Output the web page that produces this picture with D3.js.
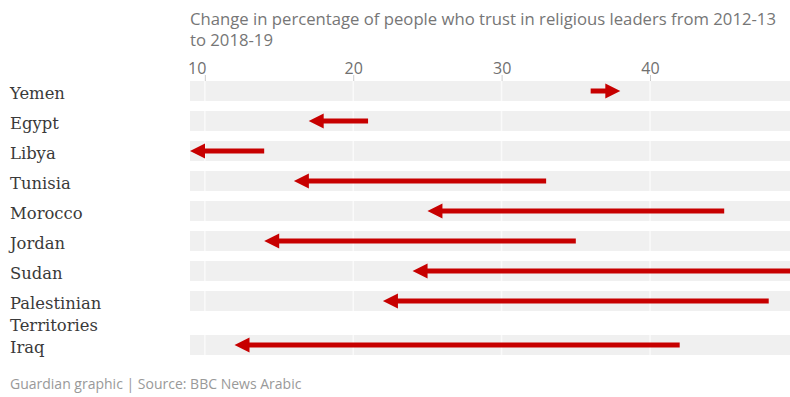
<!DOCTYPE html>
<html>
<head>
<meta charset="utf-8">
<script src="https://cdn.jsdelivr.net/npm/d3@7"></script>
<style>
  body { margin: 0; background: #fff; }
  svg { display: block; }
</style>
</head>
<body>
<div id="content"></div>
<script>
var width = 790;
var height = 397;

var countries = ['Yemen', 'Egypt', 'Libya', 'Tunisia', 'Morocco', 'Jordan', 'Sudan', 'Palestinian Territories', 'Iraq'];
var labelLines = [['Yemen'], ['Egypt'], ['Libya'], ['Tunisia'], ['Morocco'], ['Jordan'], ['Sudan'], ['Palestinian', 'Territories'], ['Iraq']];
var start2012 = [36, 21, 14, 33, 45, 35, 51, 48, 42];
var end2019 = [38, 17, 9, 16, 25, 14, 24, 22, 12];
var tickValues = [10, 20, 30, 40];
var titleLines = ['Change in percentage of people who trust in religious leaders from 2012-13', 'to 2018-19'];
var sourceText = 'Guardian graphic | Source: BBC News Arabic';

var red = '#c70000';
var bandH = 20;
var headLen = 15;
var headH = 15;

var x = d3.scaleLinear()
    .domain([9, 50])
    .range([190, 798.4]);

// row tops: 30px per row, extra 14px for each wrapped label line
var rowTop = [];
var y0 = 81;
labelLines.forEach(function(l){
    rowTop.push(y0);
    y0 += 30 + (l.length - 1) * 14;
});

var svg = d3.select('div#content').append('svg')
    .attr('width', width)
    .attr('height', height);

// title
svg.append('text')
    .attr('x', 190)
    .attr('y', 25)
    .attr('font-family', 'Open Sans')
    .attr('font-size', 16.7)
    .attr('fill', '#767676')
    .selectAll('tspan')
    .data(titleLines).enter()
        .append('tspan')
            .attr('x', 190)
            .attr('dy', function(d, i){ return i ? 21 : 0; })
            .text(function(d){ return d; });

// bands
var rows = svg.append('g').selectAll('g.row')
    .data(countries).enter()
        .append('g')
        .attr('class', 'row');

rows.append('rect')
    .attr('x', x(9))
    .attr('y', function(d, i){ return rowTop[i]; })
    .attr('width', width - x(9))
    .attr('height', bandH)
    .attr('fill', '#f0f0f0');

// grid lines through bands
rows.each(function(d, i){
    d3.select(this).selectAll('line.grid')
        .data(tickValues).enter()
            .append('line')
            .attr('class', 'grid')
            .attr('x1', function(t){ return x(t); })
            .attr('x2', function(t){ return x(t); })
            .attr('y1', rowTop[i])
            .attr('y2', rowTop[i] + bandH)
            .attr('stroke', '#fafafa')
            .attr('stroke-width', 1.5);
});

// axis
var axis = d3.axisTop(x)
    .tickValues(tickValues)
    .tickSize(6)
    .tickPadding(1)
    .tickFormat(d3.format('d'));

var axisG = svg.append('g')
    .attr('transform', 'translate(0,81)')
    .call(axis);
axisG.select('.domain').remove();
axisG.selectAll('.tick line').attr('stroke', '#cccccc');
axisG.selectAll('.tick text')
    .attr('font-family', 'Open Sans')
    .attr('font-size', 16)
    .attr('fill', '#707070');
// first label sits left of its tick
axisG.selectAll('.tick text')
    .filter(function(d, i){ return i === 0; })
    .attr('text-anchor', 'end')
    .attr('dx', 1);

// labels
svg.append('g').selectAll('text')
    .data(labelLines).enter()
        .append('text')
        .attr('x', 10)
        .attr('y', function(d, i){ return rowTop[i] + 18; })
        .attr('font-family', 'DejaVu Serif')
        .attr('font-size', 16.4)
        .attr('fill', '#3a3a3a')
        .selectAll('tspan')
        .data(function(d){ return d; }).enter()
            .append('tspan')
            .attr('x', 10)
            .attr('dy', function(d, i){ return i ? 22 : 0; })
            .text(function(d){ return d; });

// arrows
var arrows = svg.append('g').selectAll('g.arrow')
    .data(countries).enter()
        .append('g')
        .attr('class', 'arrow');

arrows.append('line')
    .attr('x1', function(d, i){ return x(start2012[i]); })
    .attr('x2', function(d, i){
        var dir = end2019[i] > start2012[i] ? 1 : -1;
        return x(end2019[i]) - dir * (headLen - 1);
    })
    .attr('y1', function(d, i){ return rowTop[i] + bandH / 2; })
    .attr('y2', function(d, i){ return rowTop[i] + bandH / 2; })
    .attr('stroke', red)
    .attr('stroke-width', 5);

arrows.append('path')
    .attr('fill', red)
    .attr('d', function(d, i){
        var dir = end2019[i] > start2012[i] ? 1 : -1;
        var tx = x(end2019[i]);
        var cy = rowTop[i] + bandH / 2;
        var bx = tx - dir * headLen;
        return 'M' + tx + ',' + cy + 'L' + bx + ',' + (cy - headH / 2) + 'L' + bx + ',' + (cy + headH / 2) + 'Z';
    });

// source
svg.append('text')
    .attr('x', 10)
    .attr('y', 389)
    .attr('font-family', 'Open Sans')
    .attr('font-size', 14)
    .attr('fill', '#999999')
    .text(sourceText);
</script>
</body>
</html>
